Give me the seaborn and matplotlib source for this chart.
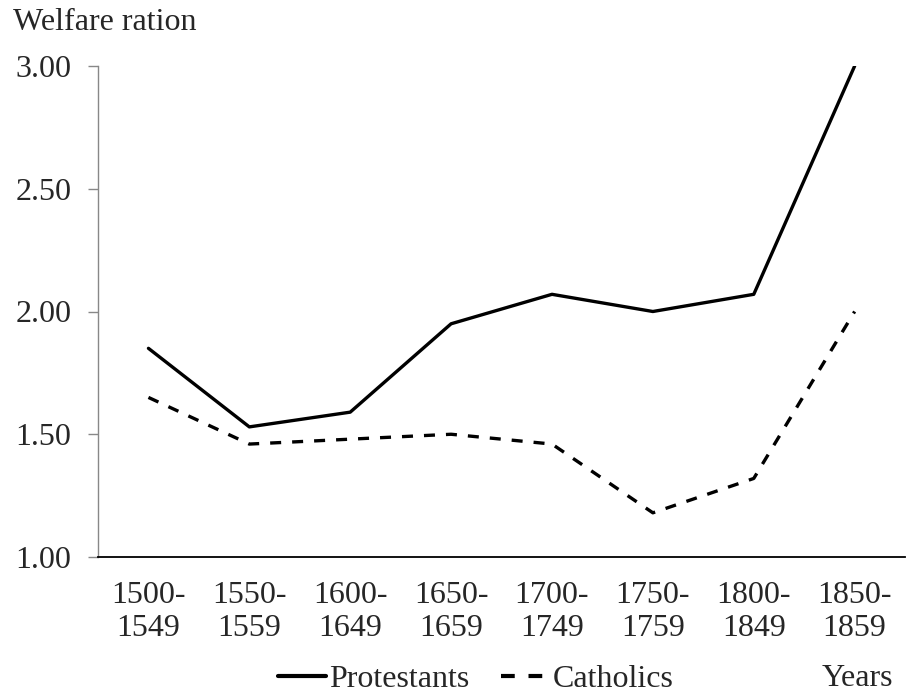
import pandas as pd
import matplotlib.pyplot as plt
import seaborn as sns
from matplotlib.lines import Line2D

# --- dati ---
periodi = ["1500-\n1549", "1550-\n1559", "1600-\n1649", "1650-\n1659",
           "1700-\n1749", "1750-\n1759", "1800-\n1849", "1850-\n1859"]
protestanti = [1.85, 1.53, 1.59, 1.95, 2.07, 2.00, 2.07, 3.00]
cattolici = [1.65, 1.46, 1.48, 1.50, 1.46, 1.18, 1.32, 2.00]
y_ticks = [1.00, 1.50, 2.00, 2.50, 3.00]

df = pd.DataFrame({
    "Periodo": periodi * 2,
    "Welfare": protestanti + cattolici,
    "Gruppo": ["Protestants"] * len(periodi) + ["Catholics"] * len(periodi),
})

sns.set_theme(style="white")
plt.rcParams["font.family"] = ["Liberation Serif", "DejaVu Serif"]
fs = 23

fig = plt.figure(figsize=(9.06, 6.93), dpi=100)
ax = fig.add_axes([98 / 906, 1 - 557 / 693, 1 - 98 / 906 - 0.001, (557 - 66) / 693])

sns.lineplot(data=df, x="Periodo", y="Welfare", hue="Gruppo", style="Gruppo",
             palette={"Protestants": "black", "Catholics": "black"},
             dashes={"Protestants": "", "Catholics": (3.3, 3.3)},
             linewidth=2.4, sort=False, legend=False, ax=ax)

ax.set_xlim(-0.5, len(periodi) - 0.5)
ax.set_ylim(1.0, 3.0)
ax.set_yticks(y_ticks)
ax.set_yticklabels([f"{v:.2f}" for v in y_ticks], fontsize=fs)
ax.set_xticks(range(len(periodi)))
ax.set_xticklabels(periodi, fontsize=fs, linespacing=1.2)
ax.set_xticks([i - 0.5 for i in range(len(periodi) + 1)], minor=True)
ax.tick_params(axis="x", which="major", length=0, pad=17)
ax.tick_params(axis="x", which="minor", length=7, width=1, color="#888888", direction="out")
ax.tick_params(axis="y", length=7, width=1, color="#888888", direction="out", pad=12, left=True)
ax.set_xlabel("")
ax.set_ylabel("")

sns.despine(ax=ax, top=True, right=True)
ax.spines["left"].set_color("#888888")
ax.spines["left"].set_linewidth(1.0)
ax.spines["bottom"].set_color("black")
ax.spines["bottom"].set_linewidth(1.3)

fig.text(13 / 906, 1 - 22 / 693, "Welfare ration", fontsize=fs, va="center", ha="left")
fig.text(893 / 906, 1 - 679 / 693, "Years", fontsize=fs, va="center", ha="right")

handles = [Line2D([], [], color="black", lw=3),
           Line2D([], [], color="black", lw=3, dashes=(3.3, 3.3))]
fig.legend(handles, ["Protestants", "Catholics"], loc="center",
           bbox_to_anchor=(0.525, 1 - 679 / 693), ncol=2, frameon=False,
           fontsize=fs, handlelength=1.5, handletextpad=0.1, columnspacing=1.0,
           borderpad=0, borderaxespad=0)

fig.savefig("out.png", dpi=100)
